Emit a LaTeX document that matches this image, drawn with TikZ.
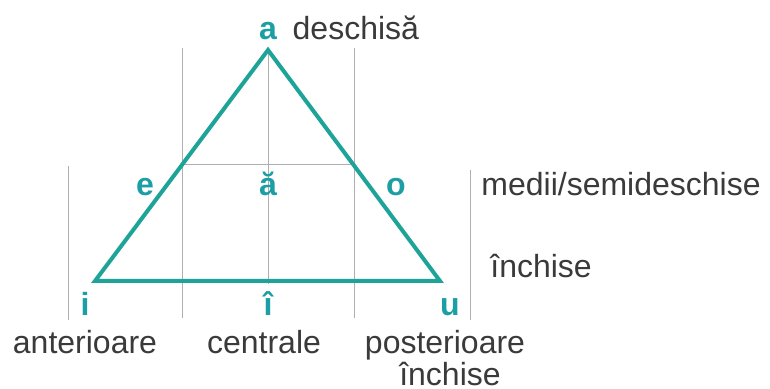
\documentclass[tikz,border=0pt]{standalone}
\usepackage{fontspec}
\setmainfont{Liberation Sans}
\usepackage{xcolor}
\definecolor{vowelteal}{RGB}{28,158,165}
\definecolor{lineteal}{RGB}{30,163,152}
\definecolor{gridgray}{RGB}{175,175,175}
\definecolor{textgray}{RGB}{58,58,58}
\usepackage{tikz}
\usetikzlibrary{positioning}

\begin{document}
\begin{tikzpicture}[x=0.5pt,y=-0.5pt,
          font=\fontsize{16}{16}\selectfont,
          vowel/.style={text=vowelteal,font=\fontsize{16}{16}\selectfont\bfseries,
                        anchor=base,inner sep=0pt},
          lbl/.style={text=textgray,anchor=base,inner sep=0pt},
          gridline/.style={gridgray,line width=0.5pt}]
        \useasboundingbox (0,0) rectangle (770,389);
        % corners of the triangle
        \coordinate (top) at (268,50);
        \coordinate (front) at (95,281);
        \coordinate (back) at (440,281);
        % grid behind it
        \draw[gridline] (68,166) -- (68,320);
        \draw[gridline] (182,48) -- (182,318);
        \draw[gridline] (268,50) -- (268,284);
        \draw[gridline] (354,48) -- (354,318);
        \draw[gridline] (470,170) -- (470,320);
        \draw[gridline] (182,165) -- (354,165);
        \draw[lineteal,line width=2pt,line join=miter] (top) -- (front) -- (back) -- cycle;
        % vowels
        \node[vowel] (a) at (268,40) {a};
        \node[vowel] (e) at (145,196) {e};
        \node[vowel] (ab) at (268,196) {ă};
        \node[vowel] (o) at (396,196) {o};
        \node[vowel] (i) at (85,316) {i};
        \node[vowel] (ic) at (268,316) {î};
        \node[vowel] (u) at (450,316) {u};
        % labels
        \node[lbl,base right=7.5pt of a] (open) {deschisă};
        \node[lbl,anchor=base west] (mid) at (481,196) {medii/semideschise};
        \node[lbl,anchor=base west] (closed) at (490,278) {închise};
        \node[lbl] (ant) at (85,353) {anterioare};
        \node[lbl] (cen) at (264,353) {centrale};
        \node[lbl] (post) at (445,353) {posterioare};
        \node[lbl] (postcl) at (450,385) {închise};
      \end{tikzpicture}
\end{document}
